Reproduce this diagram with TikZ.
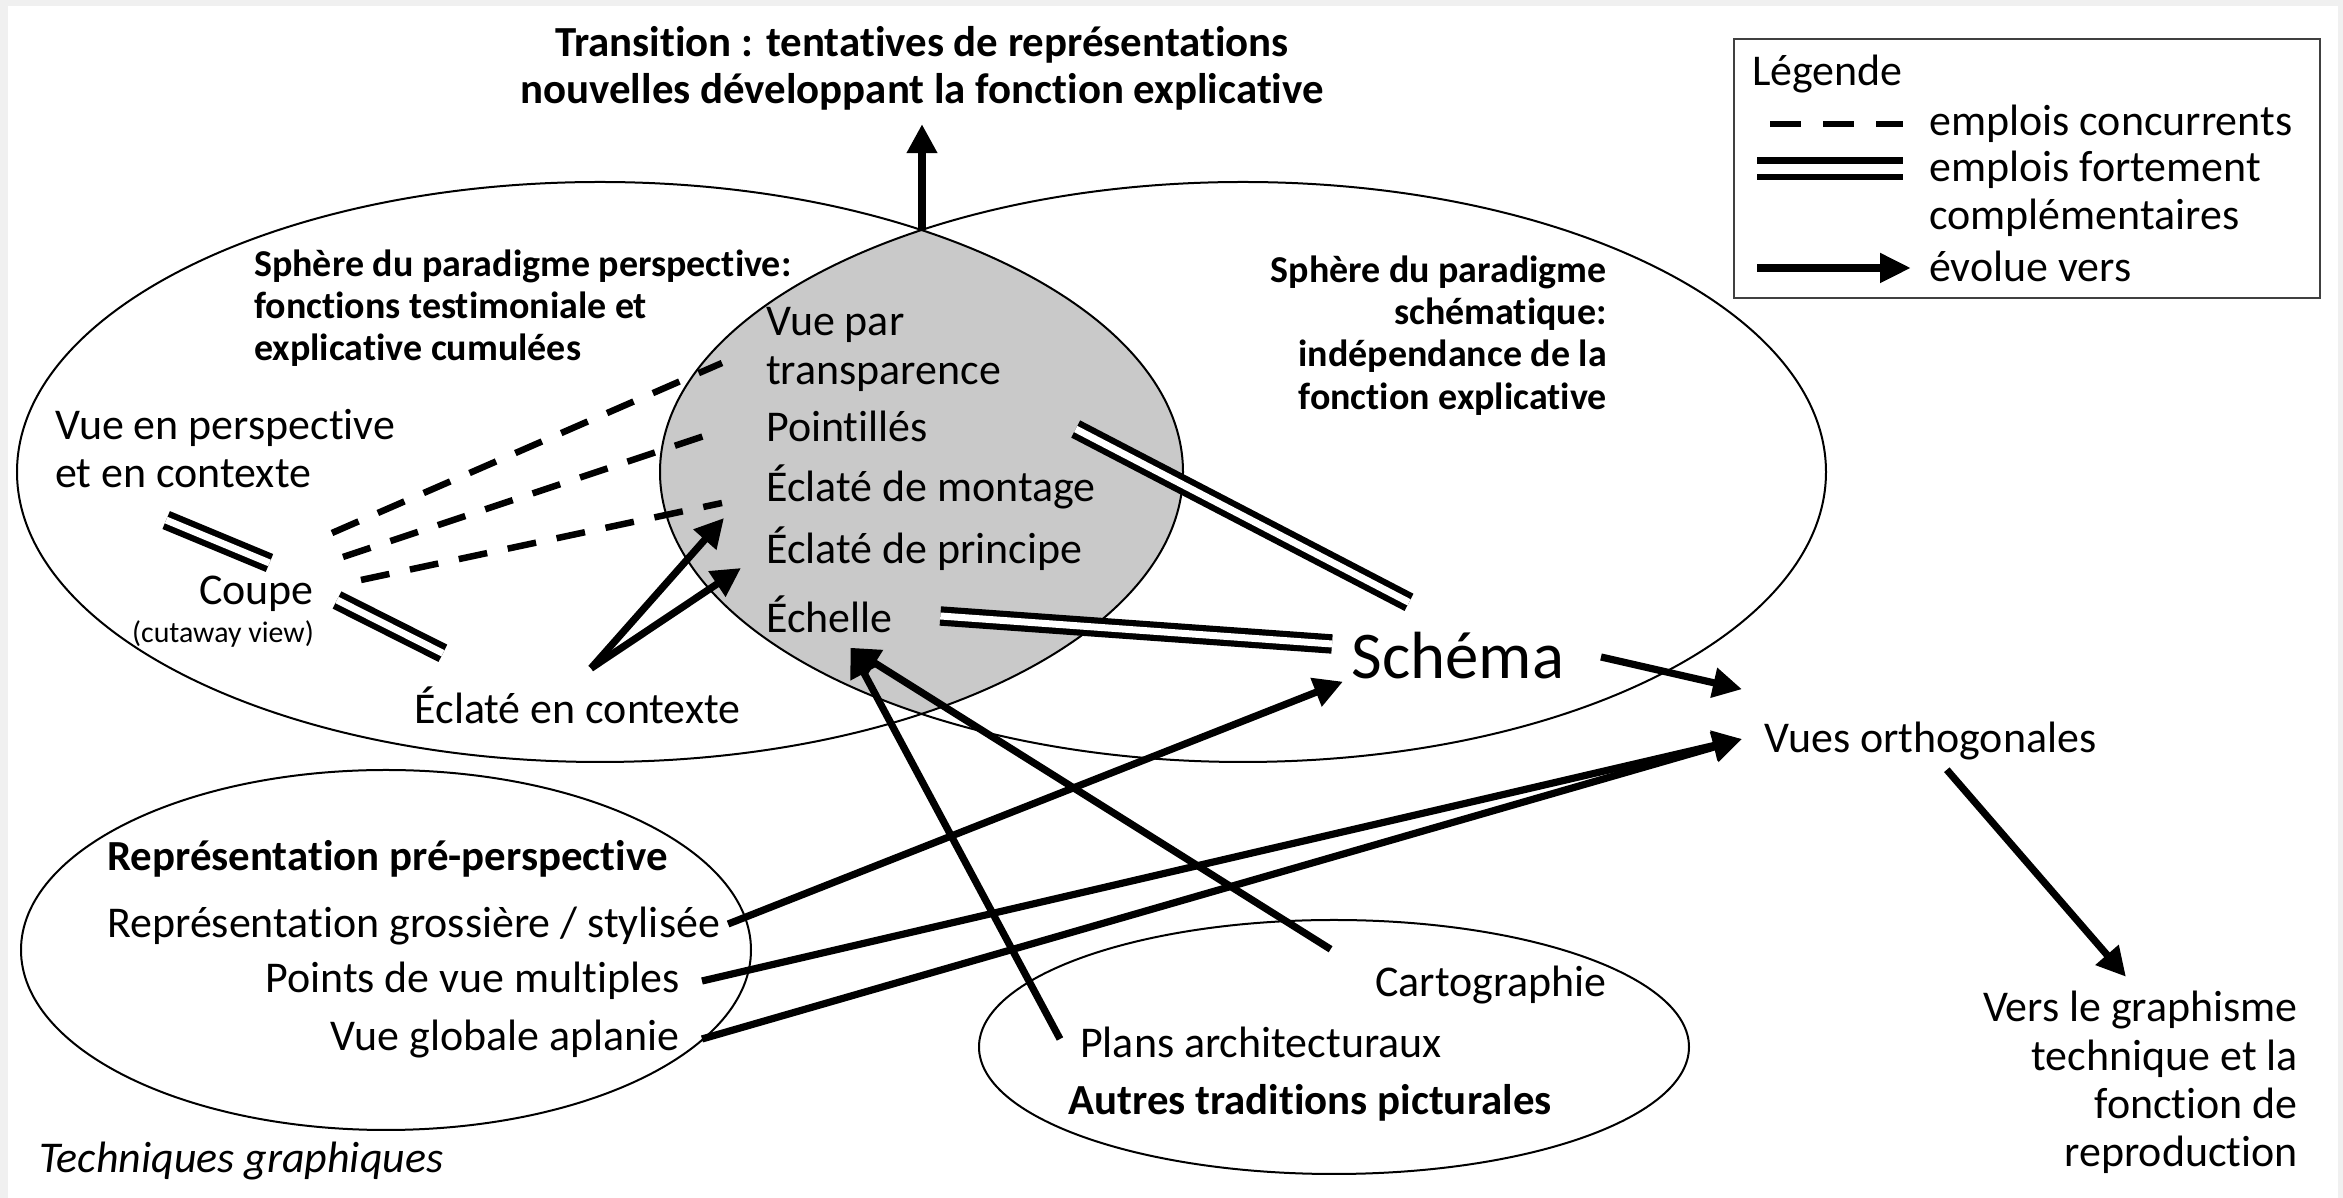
\documentclass[tikz,border=0pt]{standalone}
\usepackage{fontspec}
\setmainfont{Carlito}[RawFeature=-liga,RawFeature=-clig,RawFeature=-rlig,RawFeature=-calt,RawFeature=-dlig]
\usetikzlibrary{arrows.meta}

\begin{document}
\begin{tikzpicture}[
  txt/.style={inner sep=1pt,font=\fontsize{12.5}{13.7}\selectfont},
  gras/.style={inner sep=1pt,font=\fontsize{12.2}{13.4}\selectfont\bfseries},
  sphere/.style={inner sep=1pt,font=\fontsize{10.8}{12}\selectfont\bfseries},
  petit/.style={inner sep=1pt,font=\fontsize{8.5}{9}\selectfont},
  zone/.style={line width=0.2mm},
  concur/.style={line width=0.65mm,dash pattern=on 2.9mm off 2.1mm},
  compl/.style={line width=0.62mm,double,double distance=0.7mm},
  evol/.style={line width=0.72mm,-{Triangle[length=2.9mm,width=2.9mm]}}]
              \useasboundingbox(0,0)rectangle(23.43,11.98);
              \fill[black!6](0,0)rectangle(23.43,11.98);
              \fill[white](0.08,0)rectangle(23.38,11.92);
              \begin{scope}
                \clip(6.00,7.26)ellipse(5.83 and 2.90);
                \fill[black!21](12.43,7.26)ellipse(5.83 and 2.90);
              \end{scope}
              \draw[zone](6.00,7.26)ellipse(5.83 and 2.90);
              \draw[zone](12.43,7.26)ellipse(5.83 and 2.90);
              \draw[zone](3.86,2.48)ellipse(3.65 and 1.80);
              \draw[zone](13.34,1.51)ellipse(3.55 and 1.27);
              \coordinate(top)at(9.22,9.68);
              \node[gras,align=center](titre)at(9.22,11.30){Transition : tentatives de représentations\\nouvelles développant la fonction explicative};
              \node[sphere,align=left,anchor=west](sphL)at(2.50,8.90){Sphère du paradigme perspective:\\fonctions testimoniale et\\explicative cumulées};
              \node[sphere,align=right,anchor=east](sphR)at(16.11,8.625){Sphère du paradigme\\schématique:\\indépendance de la\\fonction explicative};
              \node[txt,align=left,anchor=west](vpt)at(7.62,8.485){Vue par\\transparence};
              \node[txt,anchor=west](pt)at(7.62,7.72){Pointillés};
              \node[txt,anchor=west](em)at(7.62,7.11){Éclaté de montage};
              \node[txt,anchor=west](ep)at(7.62,6.49){Éclaté de principe};
              \node[txt,anchor=west](ech)at(7.62,5.84){Échelle};
              \node[txt,align=left,anchor=west](vep)at(0.51,7.495){Vue en perspective\\et en contexte};
              \node[txt,anchor=east](coupe)at(3.18,6.04){Coupe};
              \node[petit,anchor=north east](cut)at(coupe.south east){(cutaway view)};
              \node[txt](eec)at(5.775,4.93){Éclaté en contexte};
              \node[txt,font=\fontsize{19}{21}\selectfont](schema)at(14.58,5.42){Schéma};
              \node[txt,anchor=west](vo)at(17.60,4.57){Vues orthogonales};
              \node[txt,align=right,anchor=east](vers)at(23.02,1.155){Vers le graphisme\\technique et la\\fonction de\\reproduction};
              \node[gras,anchor=west](pre)at(1.03,3.39){Représentation pré-perspective};
              \node[txt,anchor=west](rg)at(1.03,2.72){Représentation grossière / stylisée};
              \node[txt,anchor=east](pvm)at(6.84,2.17){Points de vue multiples};
              \node[txt,anchor=east](vga)at(6.84,1.59){Vue globale aplanie};
              \node[txt,anchor=east](carto)at(16.11,2.13){Cartographie};
              \node[txt,anchor=west](plans)at(10.76,1.56){Plans architecturaux};
              \node[gras](autres)at(13.10,0.95){Autres traditions picturales};
              \node[txt,anchor=west,font=\fontsize{12.5}{13.7}\selectfont\itshape](tech)at(0.35,0.37){Techniques graphiques};
              \draw[concur]([shift={(0.14,0.39)}]coupe.north east)--([shift={(-0.40,-0.135)}]vpt.west);
              \draw[concur]([shift={(0.25,0.15)}]coupe.north east)--([shift={(-0.40,-0.04)}]pt.west);
              \draw[concur]([shift={(0.43,-0.08)}]coupe.north east)--([shift={(-0.40,-0.16)}]em.west);
              \draw[compl]([shift={(-0.59,-0.28)}]vep.south)--([shift={(0.13,0.09)}]coupe.north);
              \draw[compl]([shift={(0.19,-0.06)}]coupe.east)--([shift={(0.325,0.29)}]eec.north west);
              \draw[compl]([shift={(1.435,-0.03)}]pt.east)--([shift={(-0.49,0.26)}]schema.north);
              \draw[compl]([shift={(0.435,-0.02)}]ech.east)--([shift={(-0.155,0.12)}]schema.west);
              \draw[evol]([shift={(0.135,0.14)}]eec.north)--([shift={(-0.38,-0.31)}]em.west);
              \draw[evol]([shift={(0.135,0.14)}]eec.north)--([shift={(-0.21,-0.19)}]ep.west);
              \draw[evol]([shift={(-0.16,0.03)}]plans.west)--([shift={(0.21,-0.11)}]ech.south);
              \draw[evol]([shift={(-0.405,0.125)}]carto.north west)--([shift={(0.21,-0.11)}]ech.south);
              \draw[evol]([shift={(0.04,0.02)}]rg.east)--([shift={(-0.045,0.02)}]schema.south west);
              \draw[evol]([xshift=1.8mm]pvm.east)--([shift={(-0.18,0.02)}]vo.west);
              \draw[evol]([xshift=1.8mm]vga.east)--([shift={(-0.18,0.02)}]vo.west);
              \draw[evol]([shift={(0.325,-0.01)}]schema.east)--([shift={(-0.18,0.285)}]vo.north west);
              \draw[evol]([shift={(0.165,-0.055)}]vo.south)--([shift={(-0.145,0.105)}]vers.north);
              \draw[evol](top)--([yshift=-1mm]titre.south);
              \draw[black!75,line width=0.2mm](17.34,11.59)rectangle(23.20,9.00);
              \node[txt,anchor=west](leg)at(17.48,11.24){Légende};
              \node[txt,anchor=west](lc)at(19.25,10.74){emplois concurrents};
              \node[txt,align=left,anchor=west](lf)at(19.25,10.04){emplois fortement\\complémentaires};
              \node[txt,anchor=west](le)at(19.25,9.32){évolue vers};
              \draw[line width=0.65mm,dash pattern=on 3.1mm off 2.2mm]([xshift=-15.5mm]lc.west)--([xshift=-2.2mm]lc.west);
              \draw[line width=0.65mm,double,double distance=1mm]([shift={(-1.68,0.25)}]lf.west)--([shift={(-0.22,0.25)}]lf.west);
              \draw[line width=0.85mm,-{Triangle[length=3.1mm,width=2.8mm]}]([shift={(-1.68,-0.02)}]le.west)--([shift={(-0.14,-0.02)}]le.west);
            \end{tikzpicture}
\end{document}
